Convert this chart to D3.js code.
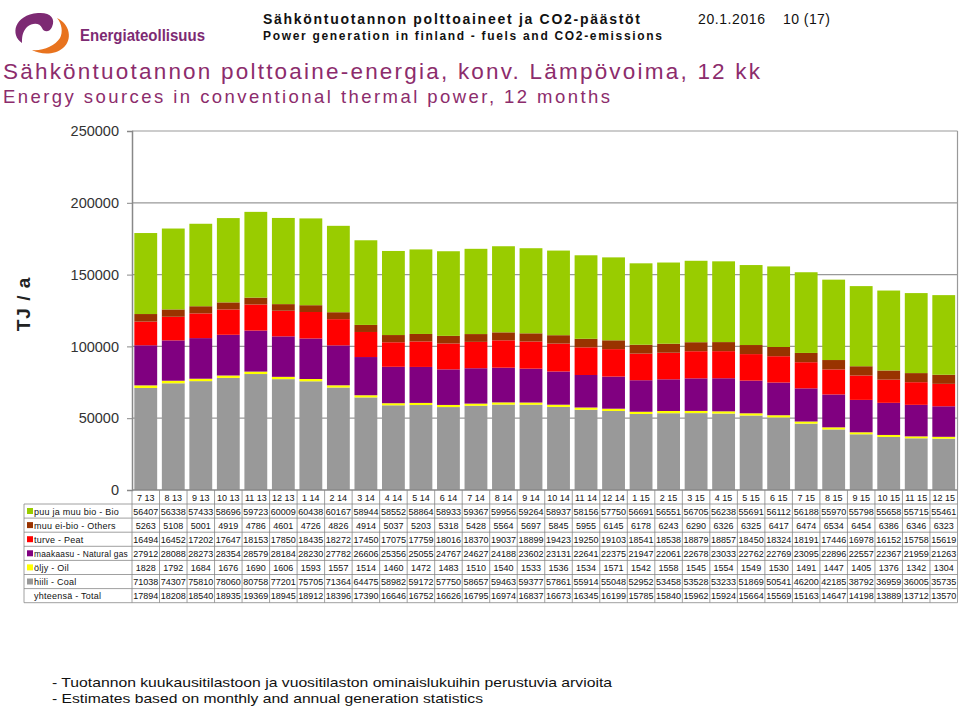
<!DOCTYPE html>
<html><head><meta charset="utf-8">
<script src="https://cdn.jsdelivr.net/npm/d3@7"></script>
<style>body{margin:0;background:#fff}svg{display:block}text{font-family:Arial,"Liberation Sans",sans-serif}</style>
</head><body><svg id="c" width="960" height="706"></svg>
<script>
const categories=["7 13","8 13","9 13","10 13","11 13","12 13","1 14","2 14","3 14","4 14","5 14","6 14","7 14","8 14","9 14","10 14","11 14","12 14","1 15","2 15","3 15","4 15","5 15","6 15","7 15","8 15","9 15","10 15","11 15","12 15"];
const bio=[56407,56338,57433,58696,59723,60009,60438,60167,58944,58552,58864,58933,59367,59956,59264,58937,58156,57750,56691,56551,56705,56238,55691,56112,56188,55970,55798,55658,55715,55461];
const others=[5263,5108,5001,4919,4786,4601,4726,4826,4914,5037,5203,5318,5428,5564,5697,5845,5955,6145,6178,6243,6290,6326,6325,6417,6474,6534,6454,6386,6346,6323];
const peat=[16494,16452,17202,17647,18153,17850,18435,18272,17450,17075,17759,18016,18370,19037,18899,19423,19250,19103,18541,18538,18879,18857,18450,18324,18191,17446,16978,16152,15758,15619];
const gas=[27912,28088,28273,28354,28579,28184,28230,27782,26606,25356,25055,24767,24627,24188,23602,23131,22641,22375,21947,22061,22678,23033,22762,22769,23095,22896,22557,22367,21959,21263];
const oil=[1828,1792,1684,1676,1690,1606,1593,1557,1514,1460,1472,1483,1510,1540,1533,1536,1534,1571,1542,1558,1545,1554,1549,1530,1491,1447,1405,1376,1342,1304];
const coal=[71038,74307,75810,78060,80758,77201,75705,71364,64475,58982,59172,57750,58657,59463,59377,57861,55914,55048,52952,53458,53528,53233,51869,50541,46200,42185,38792,36959,36005,35735];
const totalShown=["17894","18208","18540","18935","19369","18945","18912","18396","17390","16646","16752","16626","16795","16974","16837","16673","16345","16199","15785","15840","15962","15924","15664","15569","15163","14647","14198","13889","13712","13570"];
const yTicks=[0,50000,100000,150000,200000,250000];
const seriesNames=["puu ja muu bio - Bio","muu ei-bio - Others","turve - Peat","maakaasu - Natural gas","öljy - Oil","hiili - Coal"];

const svg=d3.select("#c");
const L=132,R=957.5,T=131,B=490;
const x=d3.scaleBand().domain(categories).range([L,R]).paddingInner(0.17).paddingOuter(0.085);
const xc=d3.scaleBand().domain(categories).range([L,R]).padding(0);
const y=d3.scaleLinear().domain([0,250000]).range([B,T]);

// logo
svg.append("path").attr("d","M 22 43 C 10 35, 14 15, 38 13 C 50 12, 56 18, 52 27 C 50 32, 44 33, 42 28 C 40 23, 33 22, 27 27 C 22 32, 22 38, 22 43 Z").attr("fill","#7d2a73");
svg.append("path").attr("d","M 57 18 C 70 24, 73 40, 63 48 C 55 55, 41 55, 32 50 C 43 51, 55 46, 60 38 C 63 32, 62 24, 57 18 Z").attr("fill","#e8731e");
svg.append("text").attr("x",80).attr("y",41).attr("font-size",17).attr("font-family","'Open Sans',sans-serif").attr("font-weight",600).attr("fill","#7d2a73").attr("textLength",125).attr("lengthAdjust","spacingAndGlyphs").text("Energiateollisuus");

// header
svg.append("text").attr("x",263).attr("y",24).attr("font-size",14).attr("font-weight","bold").attr("fill","#111").attr("textLength",377).attr("lengthAdjust","spacing").text("Sähköntuotannon polttoaineet ja CO2-päästöt");
svg.append("text").attr("x",263).attr("y",40).attr("font-size",12).attr("font-weight","bold").attr("fill","#111").attr("textLength",399).attr("lengthAdjust","spacing").text("Power generation in finland - fuels and CO2-emissions");
svg.append("text").attr("x",698).attr("y",24).attr("font-size",14).attr("fill","#111").attr("textLength",67).attr("lengthAdjust","spacing").text("20.1.2016");
svg.append("text").attr("x",783).attr("y",24).attr("font-size",14).attr("fill","#111").attr("textLength",47).attr("lengthAdjust","spacing").text("10 (17)");

// titles
svg.append("text").attr("x",3).attr("y",79).attr("font-size",22.5).attr("fill","#8c2c6c").attr("textLength",757).attr("lengthAdjust","spacing").text("Sähköntuotannon polttoaine-energia, konv. Lämpövoima, 12 kk");
svg.append("text").attr("x",3).attr("y",103).attr("font-size",18.5).attr("fill","#8c2c6c").attr("textLength",607).attr("lengthAdjust","spacing").text("Energy sources in conventional thermal power, 12 months");

// gridlines & frame
svg.append("g").selectAll("line").data(yTicks.filter(d=>d>0)).join("line")
 .attr("x1",L).attr("x2",R).attr("y1",d=>y(d)).attr("y2",d=>y(d)).attr("stroke","#999").attr("stroke-width",1.2);
svg.append("line").attr("x1",R).attr("x2",R).attr("y1",T).attr("y2",B).attr("stroke","#999").attr("stroke-width",1.2);

// stacks
const keys=["coal","oil","gas","peat","others","bio"];
const colors={coal:"#999999",oil:"#ffff00",gas:"#800080",peat:"#ff0000",others:"#993300",bio:"#99cc00"};
const rows=categories.map((c,i)=>({cat:c,coal:coal[i],oil:oil[i],gas:gas[i],peat:peat[i],others:others[i],bio:bio[i]}));
const stack=d3.stack().keys(keys)(rows);
svg.append("g").selectAll("g").data(stack).join("g").attr("fill",d=>colors[d.key])
 .selectAll("rect").data(d=>d).join("rect")
 .attr("x",d=>x(d.data.cat)).attr("width",x.bandwidth())
 .attr("y",d=>y(d[1])).attr("height",d=>y(d[0])-y(d[1]));

// y axis
const ya=svg.append("g").attr("transform",`translate(${L},0)`).call(d3.axisLeft(y).tickValues(yTicks).tickFormat(d3.format("d")).tickSize(5).tickPadding(8));
ya.select(".domain").attr("stroke","#888").attr("stroke-width",1.5);
ya.selectAll(".tick line").attr("stroke","#888");
ya.selectAll("text").attr("font-size",14.5).attr("font-family","Arial,sans-serif").attr("fill","#333");
svg.append("line").attr("x1",L).attr("x2",R).attr("y1",B).attr("y2",B).attr("stroke","#888").attr("stroke-width",1.5);
svg.append("text").attr("transform","translate(30,304) rotate(-90)").attr("text-anchor","middle").attr("font-size",19).attr("font-weight","bold").attr("fill","#222").attr("letter-spacing",1).text("TJ / a");

// table
const rowH=14.1, r0=504;
const tbl=svg.append("g");
const lc="#888";
tbl.selectAll("text.h").data(categories).join("text").attr("class","h")
 .attr("x",d=>xc(d)+xc.bandwidth()/2).attr("y",500.5).attr("text-anchor","middle").attr("font-size",9).attr("fill","#111").text(d=>d);
tbl.selectAll("line.v").data(d3.range(categories.length+1)).join("line").attr("class","v")
 .attr("x1",i=>L+i*xc.step()).attr("x2",i=>L+i*xc.step()).attr("y1",B).attr("y2",r0+7*rowH).attr("stroke",lc).attr("stroke-width",0.8);
tbl.append("line").attr("x1",24).attr("x2",24).attr("y1",r0).attr("y2",r0+7*rowH).attr("stroke",lc).attr("stroke-width",0.8);
tbl.selectAll("line.hz").data(d3.range(8)).join("line").attr("class","hz")
 .attr("x1",24).attr("x2",R).attr("y1",i=>r0+i*rowH).attr("y2",i=>r0+i*rowH).attr("stroke",lc).attr("stroke-width",0.8);
const tableData=[bio,others,peat,gas,oil,coal];
const tkeys=["bio","others","peat","gas","oil","coal"];
function label(t,yy){
  const el=tbl.append("text").attr("x",34).attr("y",yy).attr("font-size",9).attr("fill","#111").attr("letter-spacing",0.25).text(t);
  const w=el.node().getComputedTextLength();
  if(w>94) el.attr("textLength",94).attr("lengthAdjust","spacingAndGlyphs");
}
tableData.forEach((arr,r)=>{
  const yy=r0+r*rowH;
  tbl.append("rect").attr("x",27).attr("y",yy+4).attr("width",6).attr("height",6).attr("fill",colors[tkeys[r]]);
  label(seriesNames[r],yy+10.5);
  tbl.selectAll(null).data(arr).join("text").attr("x",(d,i)=>xc(categories[i])+xc.bandwidth()/2).attr("y",yy+10.5)
   .attr("text-anchor","middle").attr("font-size",9).attr("fill","#111").text(d=>d);
});
const yyT=r0+6*rowH;
label("yhteensä - Total",yyT+10.5);
tbl.selectAll(null).data(totalShown).join("text").attr("x",(d,i)=>xc(categories[i])+xc.bandwidth()/2).attr("y",yyT+10.5)
 .attr("text-anchor","middle").attr("font-size",9).attr("fill","#111").text(d=>d);

// footer
svg.append("text").attr("x",52).attr("y",687).attr("font-size",13).attr("fill","#111").attr("textLength",560).attr("lengthAdjust","spacingAndGlyphs").text("- Tuotannon kuukausitilastoon ja vuositilaston ominaislukuihin perustuvia arvioita");
svg.append("text").attr("x",52).attr("y",703).attr("font-size",13).attr("fill","#111").attr("textLength",431).attr("lengthAdjust","spacingAndGlyphs").text("- Estimates based on monthly and annual generation statistics");
</script></body></html>
